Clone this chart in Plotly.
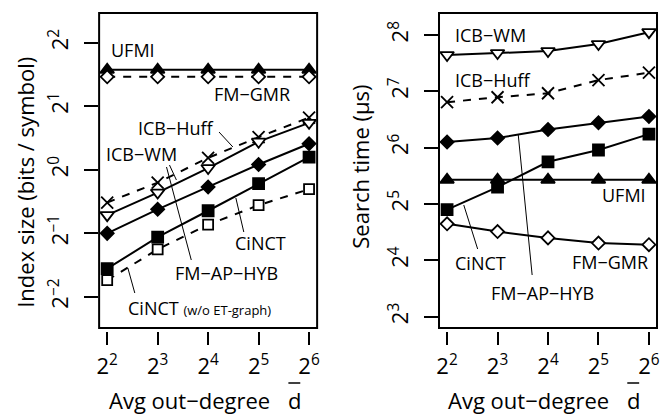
import plotly.graph_objects as go

W, H = 661, 414
FONT = "Open Sans"

# ---- data ----------------------------------------------------------
degree = [4, 8, 16, 32, 64]
deg_ticks = ["2<sup>2</sup>", "2<sup>3</sup>", "2<sup>4</sup>", "2<sup>5</sup>", "2<sup>6</sup>"]

# index size (bits / symbol)
size_ufmi = [2.98, 2.98, 2.98, 2.98, 2.98]
size_fmgmr = [2.76, 2.76, 2.76, 2.76, 2.76]
size_icb_huff = [0.70, 0.87, 1.14, 1.43, 1.77]
size_icb_wm = [0.61, 0.78, 1.02, 1.36, 1.67]
size_fm_ap_hyb = [0.50, 0.65, 0.83, 1.06, 1.33]
size_cinct = [0.34, 0.48, 0.64, 0.86, 1.15]
size_cinct_noet = [0.30, 0.42, 0.55, 0.68, 0.81]
size_tickvals = [0.25, 0.5, 1, 2, 4]
size_ticktext = ["2<sup>−2</sup>", "2<sup>−1</sup>", "2<sup>0</sup>", "2<sup>1</sup>", "2<sup>2</sup>"]

# search time (microseconds)
time_icb_wm = [200, 205, 210, 229, 265]
time_icb_huff = [112, 119, 125, 147, 161]
time_fm_ap_hyb = [68.6, 72, 80, 87, 94]
time_cinct = [29.9, 39.4, 53.8, 62.2, 75.6]
time_ufmi = [43.1, 43.1, 43.1, 43.1, 43.1]
time_fmgmr = [25.1, 22.8, 21.1, 19.8, 19.4]
time_tickvals = [8, 16, 32, 64, 128, 256]
time_ticktext = ["2<sup>3</sup>", "2<sup>4</sup>", "2<sup>5</sup>", "2<sup>6</sup>",
                 "2<sup>7</sup>", "2<sup>8</sup>"]


def px(x):
    return x / W


def py(y):
    return 1 - y / H


fig = go.Figure()

SOLID = "solid"
DASH = "8px,8px"


def series(xa, ya, y, symbol, dash, size=11, fill="black"):
    fig.add_trace(go.Scatter(
        x=degree, y=y, xaxis=xa, yaxis=ya, mode="lines+markers",
        line=dict(color="black", width=2, dash=dash),
        marker=dict(symbol=symbol, size=size, color=fill,
                    line=dict(color="black", width=1.8)),
        showlegend=False, cliponaxis=False,
    ))


# left panel: index size
series("x", "y", size_ufmi, "triangle-up", SOLID, 12)
series("x", "y", size_fmgmr, "diamond", DASH, 10, "white")
series("x", "y", size_icb_huff, "x-thin-open", DASH, 12)
series("x", "y", size_icb_wm, "triangle-down", SOLID, 12, "white")
series("x", "y", size_fm_ap_hyb, "diamond", SOLID, 10)
series("x", "y", size_cinct, "square", SOLID, 11)
series("x", "y", size_cinct_noet, "square", DASH, 10, "white")

# right panel: search time
series("x2", "y2", time_icb_wm, "triangle-down", SOLID, 12, "white")
series("x2", "y2", time_icb_huff, "x-thin-open", DASH, 12)
series("x2", "y2", time_fm_ap_hyb, "diamond", SOLID, 10)
series("x2", "y2", time_cinct, "square", SOLID, 11)
series("x2", "y2", time_ufmi, "triangle-up", SOLID, 12)
series("x2", "y2", time_fmgmr, "diamond", SOLID, 10, "white")

tickfont = dict(family=FONT, size=22, color="black")
xrange_log = [0.5539, 1.8543]
ydom = [py(328), py(13)]

xcommon = dict(type="log", range=xrange_log, showgrid=False, zeroline=False,
               showline=False, ticks="outside", ticklen=13, tickwidth=1.5,
               tickcolor="black", tickfont=tickfont, tickvals=degree,
               ticktext=deg_ticks, anchor="free", position=py(331),
               ticklabelstandoff=3)
ycommon = dict(type="log", showgrid=False, zeroline=False, showline=False,
               ticks="outside", ticklen=14, tickwidth=1.5, tickcolor="black",
               tickfont=tickfont, tickangle=-90, ticklabelstandoff=7)

fig.update_layout(
    width=W, height=H, margin=dict(l=0, r=0, t=0, b=0),
    paper_bgcolor="white", plot_bgcolor="white",
    font=dict(family=FONT, color="black"),
    xaxis=dict(domain=[px(97), px(317)], **xcommon),
    xaxis2=dict(domain=[px(440), px(660)], **xcommon),
    yaxis=dict(domain=ydom, range=[-0.7496, 0.7435], anchor="x",
               tickvals=size_tickvals, ticktext=size_ticktext, **ycommon),
    yaxis2=dict(domain=ydom, range=[0.8429, 2.5256], anchor="x2",
                tickvals=time_tickvals, ticktext=time_ticktext, **ycommon),
)

# plot frames
for xr, yr in (("x domain", "y domain"), ("x2 domain", "y2 domain")):
    fig.add_shape(type="rect", xref=xr, yref=yr, x0=0, x1=1, y0=0, y1=1,
                  line=dict(color="black", width=2), layer="above")


def label(text, x, y, size=18, angle=0):
    fig.add_annotation(text=text, x=px(x), y=py(y), xref="paper", yref="paper",
                       showarrow=False, xanchor="center", yanchor="middle",
                       textangle=angle, font=dict(family=FONT, size=size, color="black"))


def leader(x0, y0, x1, y1):
    fig.add_shape(type="line", xref="paper", yref="paper",
                  x0=px(x0), y0=py(y0), x1=px(x1), y1=py(y1),
                  line=dict(color="black", width=1))


# left panel labels
label("UFMI", 131, 50)
label("FM−GMR", 251, 94)
label("ICB−Huff", 175, 128)
label("ICB−WM", 140, 154)
label("CiNCT", 260, 243)
label("FM−AP−HYB", 226, 273)
label("CiNCT <span style='font-size:13px'>(w/o ET-graph)</span>", 198, 308)
leader(218, 132, 232, 147)
leader(168, 165, 175, 180)
leader(235, 198, 243, 232)
leader(165, 167, 190, 260)
leader(126, 268, 133, 293)

# right panel labels
label("ICB−WM", 492, 35)
label("ICB−Huff", 494, 80)
label("UFMI", 627, 195)
label("CiNCT", 482, 263)
label("FM−AP−HYB", 544, 293)
label("FM−GMR", 613, 262)
leader(465, 205, 479, 249)
leader(520, 135, 534, 275)

# axis titles
label("Index size (bits / symbol)", 22, 182, 22, -90)
label("Search time (μs)", 360, 167, 22, -90)
for left, dx in ((105, 294), (447, 636)):
    fig.add_annotation(text="Avg out−degree", x=px(left), y=py(400), xref="paper",
                       yref="paper", showarrow=False, xanchor="left", yanchor="middle",
                       font=dict(family=FONT, size=22, color="black"))
    fig.add_annotation(text="d", x=px(dx), y=py(400), xref="paper", yref="paper",
                       showarrow=False, xanchor="center", yanchor="middle",
                       font=dict(family=FONT, size=22, color="black"))
    fig.add_shape(type="line", xref="paper", yref="paper",
                  x0=px(dx - 6), x1=px(dx + 6), y0=py(383), y1=py(383),
                  line=dict(color="black", width=1.5))

fig.write_html("out.html")
